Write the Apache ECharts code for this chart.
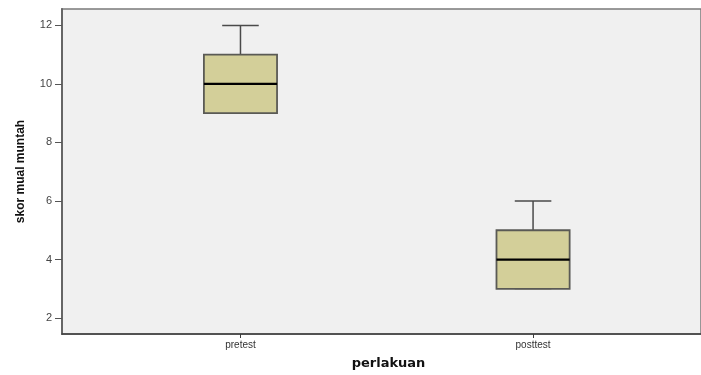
<!DOCTYPE html>
<html>
<head>
<meta charset="utf-8">
<script src="https://cdn.jsdelivr.net/npm/echarts@6/dist/echarts.min.js"></script>
<style>
  html, body { margin: 0; padding: 0; background: #ffffff; }
  #chart { width: 701px; height: 375px; }
</style>
</head>
<body>
<div id="chart"></div>
<script>
// Five-number summaries per treatment group
const categories = ['pretest', 'posttest'];
const lowerWhisker = [9, 3];
const quartile1 = [9, 3];
const medians = [10, 4];
const quartile3 = [11, 5];
const upperWhisker = [12, 6];
const yTicks = [2, 4, 6, 8, 10, 12];

const boxData = categories.map((c, i) => [
  i + 1, lowerWhisker[i], quartile1[i], medians[i], quartile3[i], upperWhisker[i]
]);

const chart = echarts.init(document.getElementById('chart'));

function renderBox(params, api) {
  const pos = api.value(0);
  const unit = api.size([1, 0])[0];
  const boxHalf = unit * 0.125;
  const capHalf = boxHalf / 2;
  const pLow = api.coord([pos, api.value(1)]);
  const pQ1 = api.coord([pos, api.value(2)]);
  const pMed = api.coord([pos, api.value(3)]);
  const pQ3 = api.coord([pos, api.value(4)]);
  const pHigh = api.coord([pos, api.value(5)]);
  const cx = pMed[0];
  const whiskerStyle = { stroke: '#4a4a4a', lineWidth: 1.5, fill: null };
  return {
    type: 'group',
    children: [
      { type: 'line', shape: { x1: cx, y1: pHigh[1], x2: cx, y2: pQ3[1] }, style: whiskerStyle },
      { type: 'line', shape: { x1: cx - capHalf, y1: pHigh[1], x2: cx + capHalf, y2: pHigh[1] }, style: whiskerStyle },
      { type: 'line', shape: { x1: cx, y1: pQ1[1], x2: cx, y2: pLow[1] }, style: whiskerStyle },
      { type: 'line', shape: { x1: cx - capHalf, y1: pLow[1], x2: cx + capHalf, y2: pLow[1] }, style: { stroke: '#9a9a8a', lineWidth: 1.5 } },
      {
        type: 'rect',
        shape: { x: cx - boxHalf, y: pQ3[1], width: boxHalf * 2, height: pQ1[1] - pQ3[1] },
        style: { fill: '#d3cf99', stroke: '#5a5a55', lineWidth: 1.8 }
      },
      { type: 'line', shape: { x1: cx - boxHalf, y1: pMed[1], x2: cx + boxHalf, y2: pMed[1] }, style: { stroke: '#000000', lineWidth: 2.2 } }
    ]
  };
}

chart.setOption({
  animation: false,
  grid: {
    left: 62, right: 0, top: 9, bottom: 40,
    show: true, backgroundColor: '#f0f0f0', borderColor: '#7a7a7a', borderWidth: 1.5
  },
  xAxis: {
    type: 'value',
    min: 0.39, max: 2.574,
    splitLine: { show: false },
    axisLine: { show: true, lineStyle: { color: '#3c3c3c', width: 1.5 } },
    axisTick: { show: true, length: 4, customValues: [1, 2], lineStyle: { color: '#3c3c3c', width: 1 } },
    axisLabel: {
      customValues: [1, 2],
      formatter: v => categories[Math.round(v) - 1] || '',
      color: '#333', fontSize: 10, fontFamily: 'Liberation Sans, Arial, sans-serif', margin: 6
    },
    name: 'perlakuan',
    nameLocation: 'middle',
    nameGap: 23,
    nameTextStyle: {
      color: '#111', fontSize: 13, fontWeight: 'bold',
      fontFamily: 'DejaVu Sans, Verdana, sans-serif', padding: [0, 0, 0, 14]
    }
  },
  yAxis: {
    type: 'value',
    min: 1.456, max: 12.56,
    splitLine: { show: false },
    axisLine: { show: true, lineStyle: { color: '#666666', width: 2 } },
    axisTick: { show: true, length: 7, customValues: yTicks, lineStyle: { color: '#555', width: 1 } },
    axisLabel: {
      customValues: yTicks,
      color: '#444', fontSize: 11, fontFamily: 'Liberation Sans, Arial, sans-serif', margin: 10
    },
    name: 'skor mual muntah',
    nameLocation: 'middle',
    nameGap: 35,
    nameTextStyle: {
      color: '#111', fontSize: 12, fontWeight: 'bold',
      fontFamily: 'Liberation Sans Narrow, Arial Narrow, Liberation Sans, Arial, sans-serif'
    }
  },
  series: [{
    type: 'custom',
    renderItem: renderBox,
    encode: { x: 0, y: [1, 2, 3, 4, 5] },
    data: boxData
  }]
});
</script>
</body>
</html>
